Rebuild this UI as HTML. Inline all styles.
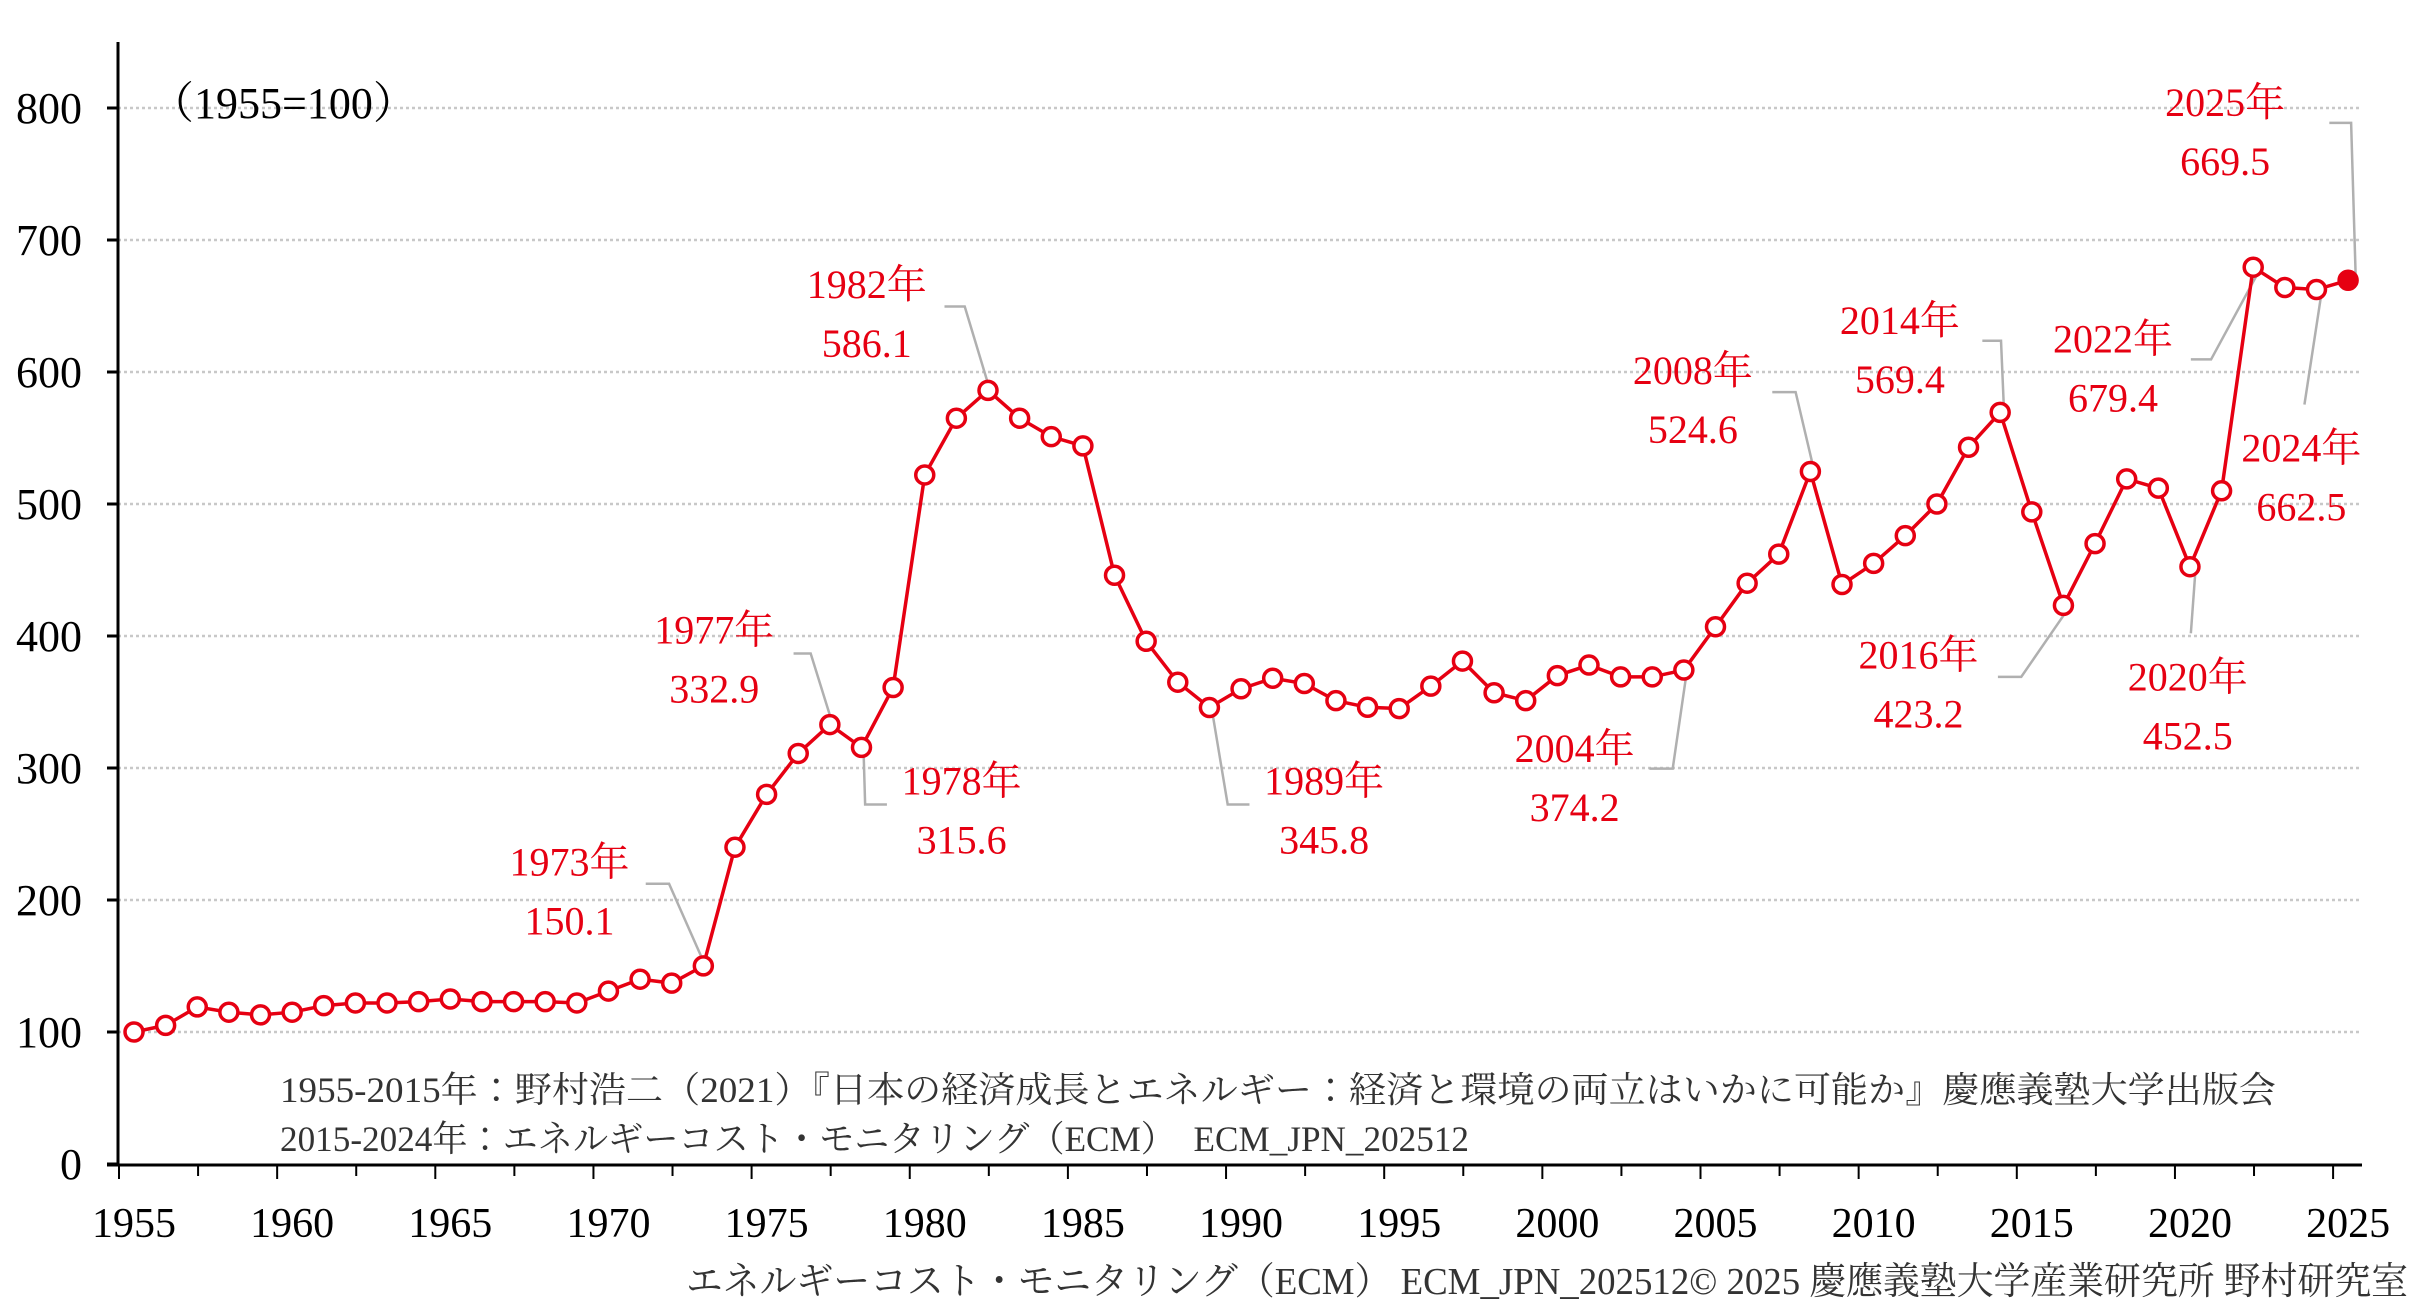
<!DOCTYPE html>
<html><head><meta charset="utf-8">
<style>
html,body{margin:0;padding:0;background:#fff;}
svg{display:block;}
text{font-family:"Liberation Serif","Noto Serif CJK JP",serif;}
</style></head>
<body>
<svg id="chart" width="2434" height="1305" viewBox="0 0 2434 1305" xmlns="http://www.w3.org/2000/svg"></svg>
<script>
const years = [];
for (let y = 1955; y <= 2025; y++) years.push(y);
const values = [100,105,119,115,113,115,120,122,122,123,125,123,123,123,122,131,140,137,150.1,240,
280,311,332.9,315.6,361,522,565,586.1,565,551,544,446,396,365,345.8,360,368,364,351,346,
345,362,381,357,351,370,378,369,369,374.2,407,440,462,524.6,439,455,476,500,543,569.4,
494,423.2,470,519,512,452.5,510,679.4,664,662.5,669.5];
const yTicks = [0,100,200,300,400,500,600,700,800];
const xLabels = [1955,1960,1965,1970,1975,1980,1985,1990,1995,2000,2005,2010,2015,2020,2025];
const annYears = ["1973年","1977年","1978年","1982年","1989年","2004年","2008年","2014年","2016年","2022年","2020年","2024年","2025年"];
const annVals = ["150.1","332.9","315.6","586.1","345.8","374.2","524.6","569.4","423.2","679.4","452.5","662.5","669.5"];
const annPos = [[366,553],[459,404],[618,501],[557,182],[851,501],[1012,480],[1088,237],[1221,205],[1233,420],[1358,217],[1406,434],[1479,287],[1430,65]];
const annLines = [
 [[415,568],[430,568],[453,620]],
 [[510,420],[521,420],[535,465]],
 [[570,517],[556,517],[555,483]],
 [[607,197],[620,197],[636,250]],
 [[803,517],[789,517],[779,457]],
 [[1060,494],[1075,494],[1084,432]],
 [[1139,252],[1154,252],[1166,303]],
 [[1274,219],[1286,219],[1288,266]],
 [[1284,435],[1299,435],[1330,390]],
 [[1408,231],[1421,231],[1453,172]],
 [[1408,407],[1411,366]],
 [[1481,260],[1492,188]],
 [[1497,79],[1511,79],[1514,180]]
];
const SX = 1.556, SY = 1.556;
const svg = document.getElementById('chart');
const NS = 'http://www.w3.org/2000/svg';
function mk(tag, attrs, parent){const e=document.createElementNS(NS,tag);for(const k in attrs)e.setAttribute(k,attrs[k]);(parent||svg).appendChild(e);return e;}
const x0 = 134, dx = 31.63;
function xs(y){return x0 + (y-1955)*dx;}
function ys(v){return 1164 - v*1.32;}
const axisX = 118, gridEnd = 2362;

yTicks.forEach(t=>{
  if(t>0){
    const g=mk('line',{x1:axisX,x2:gridEnd,y1:ys(t),y2:ys(t),stroke:'#c8c8c8','stroke-width':2.5,'stroke-dasharray':'3 3'});
    
    
  }
  const tk=mk('line',{x1:axisX-11,x2:axisX,y1:ys(t),y2:ys(t),stroke:'#000','stroke-width':3});
  
  
  const tl=mk('text',{x:axisX-36,y:ys(t)+15,'text-anchor':'end','font-size':44,fill:'#000'});
  tl.textContent=t;
  
  
});
const ya=mk('line',{x1:axisX,x2:axisX,y1:42,y2:1166,stroke:'#000','stroke-width':3});


const xa=mk('line',{x1:axisX-11,x2:gridEnd,y1:1165,y2:1165,stroke:'#000','stroke-width':3});


for(let k=0;;k++){
  const x=axisX+1+k*2.5*dx; if(x>gridEnd+5)break;
  const t=mk('line',{x1:x,x2:x,y1:1165,y2:1165+(k%2===0?14:11),stroke:'#000','stroke-width':2});
  
  
}
xLabels.forEach(y=>{
  const t=mk('text',{x:xs(y),y:1237,'text-anchor':'middle','font-size':42,fill:'#000'});
  t.textContent=y;
  
  
});
const note=mk('text',{x:150,y:118,'font-size':44,fill:'#000'});
note.textContent='（1955=100）';



annLines.forEach((pts,i)=>{
  const p=mk('polyline',{points:pts.map(q=>(q[0]*SX)+','+(q[1]*SY)).join(' '),fill:'none',stroke:'#b0b0b0','stroke-width':2.5});
  
  
});
const line=mk('polyline',{points:values.map((v,i)=>xs(years[i])+','+ys(v)).join(' '),fill:'none',stroke:'#e60012','stroke-width':3.5});


values.forEach((v,i)=>{
  const last=i===values.length-1;
  const c=mk('circle',{cx:xs(years[i]),cy:ys(v),r:9,fill:last?'#e60012':'#fff',stroke:'#e60012','stroke-width':3.5});
  
  
});
annYears.forEach((lab,i)=>{
  const [cx,cy]=annPos[i];
  const t1=mk('text',{x:cx*SX,y:cy*SY+15,'text-anchor':'middle','font-size':40,fill:'#e60012'});
  t1.textContent=lab;
  
  
  const t2=mk('text',{x:cx*SX,y:cy*SY+15+59,'text-anchor':'middle','font-size':40,fill:'#e60012'});
  t2.textContent=annVals[i];
  
  
});
const s1=mk('text',{x:280,y:1102,'font-size':36,fill:'#333',textLength:1996,lengthAdjust:'spacingAndGlyphs'});
s1.textContent='1955-2015年：野村浩二（2021）『日本の経済成長とエネルギー：経済と環境の両立はいかに可能か』慶應義塾大学出版会';


const s2=mk('text',{x:280,y:1151,'font-size':36,fill:'#333',textLength:1189,lengthAdjust:'spacingAndGlyphs'});
s2.textContent='2015-2024年：エネルギーコスト・モニタリング（ECM）　ECM_JPN_202512';


const ft=mk('text',{x:686,y:1294,'font-size':38,fill:'#333',textLength:1722,lengthAdjust:'spacingAndGlyphs'});
ft.textContent='エネルギーコスト・モニタリング（ECM） ECM_JPN_202512© 2025 慶應義塾大学産業研究所 野村研究室';


</script>
</body></html>
